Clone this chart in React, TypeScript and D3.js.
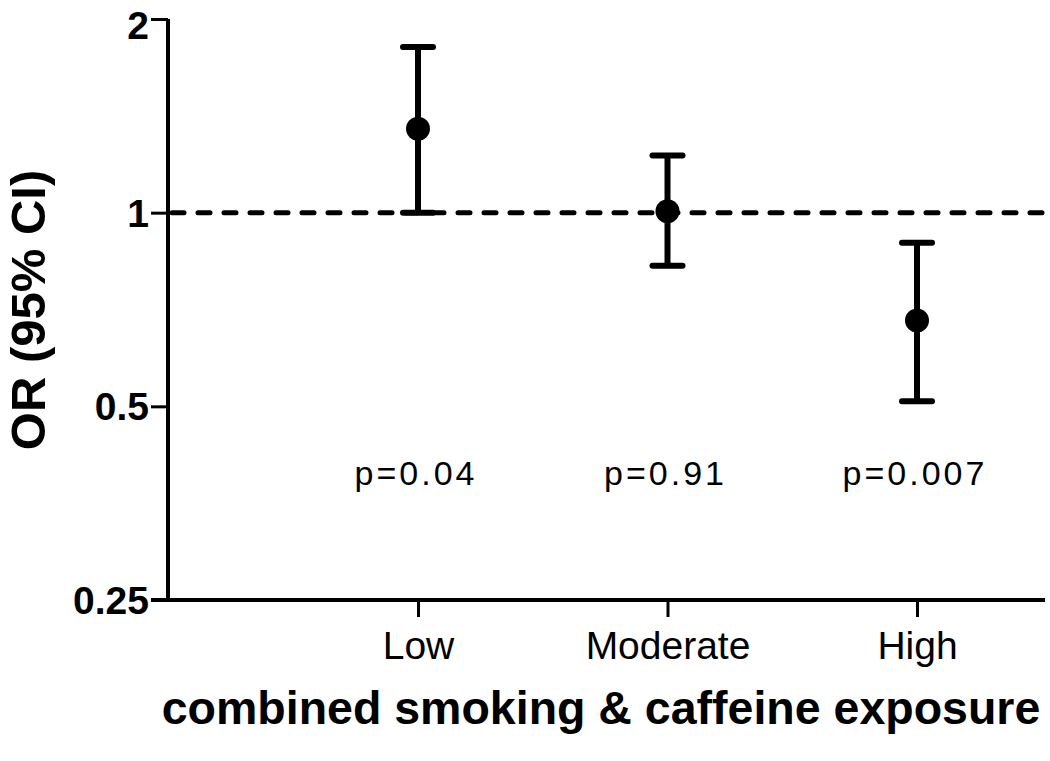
import React, { useEffect, useRef } from 'react';
import * as d3 from 'd3';

const categories = ['Low', 'Moderate', 'High'];
const orValues = [1.35, 1.005, 0.68];
const ciLower = [1.0, 0.827, 0.509];
const ciUpper = [1.81, 1.227, 0.898];
const pLabels = ['p=0.04', 'p=0.91', 'p=0.007'];
const yTicks = [0.25, 0.5, 1, 2];

export default function App() {
  const ref = useRef<SVGSVGElement>(null);

  useEffect(() => {
    const width = 1050;
    const height = 761;
    const left = 168;
    const right = 1045;
    const top = 19;
    const bottom = 600;
    const font = 'Liberation Sans, Arial, sans-serif';

    const svg = d3.select(ref.current);
    svg.selectAll('*').remove();

    const yScale = d3.scaleLog().base(2).domain([0.25, 2]).range([bottom, top]);
    const xScale = d3.scalePoint().domain(categories).range([418, 917]);

    const g = svg.append('g');

    // reference line at OR = 1
    g.append('line')
      .attr('x1', left + 4)
      .attr('x2', right)
      .attr('y1', yScale(1))
      .attr('y2', yScale(1))
      .attr('stroke', '#000')
      .attr('stroke-width', 5)
      .attr('stroke-dasharray', '12,14')
      .attr('stroke-linecap', 'round');

    // y axis
    const yAxis = g.append('g')
      .attr('transform', `translate(${left},0)`)
      .call(d3.axisLeft(yScale).tickValues(yTicks).tickFormat(d => String(d)).tickSize(17).tickPadding(2));
    yAxis.select('.domain').attr('stroke-width', 4).attr('d', `M0,${top}V${bottom}`);
    yAxis.selectAll('.tick line').attr('stroke-width', 3);
    yAxis.selectAll('.tick text')
      .attr('font-family', font)
      .attr('font-weight', 'bold')
      .attr('font-size', 39)
      .attr('fill', '#000')
      .attr('dy', d => (d === 2 ? '0.5em' : '0.35em'));

    // x axis
    const xAxis = g.append('g')
      .attr('transform', `translate(0,${bottom})`)
      .call(d3.axisBottom(xScale).tickSize(17).tickPadding(14));
    xAxis.select('.domain').attr('stroke-width', 4).attr('d', `M${left - 17},0H${right}`);
    xAxis.selectAll('.tick line').attr('stroke-width', 3);
    xAxis.selectAll('.tick text')
      .attr('font-family', font)
      .attr('font-size', 39)
      .attr('fill', '#000');

    // error bars
    const bars = g.selectAll('.bar')
      .data(categories)
      .join('g')
      .attr('class', 'bar');

    bars.append('line')
      .attr('x1', d => xScale(d)!)
      .attr('x2', d => xScale(d)!)
      .attr('y1', (d, i) => yScale(ciLower[i]))
      .attr('y2', (d, i) => yScale(ciUpper[i]))
      .attr('stroke', '#000')
      .attr('stroke-width', 6);

    [ciLower, ciUpper].forEach(arr => {
      bars.append('line')
        .attr('x1', d => xScale(d)! - 15)
        .attr('x2', d => xScale(d)! + 15)
        .attr('y1', (d, i) => yScale(arr[i]))
        .attr('y2', (d, i) => yScale(arr[i]))
        .attr('stroke', '#000')
        .attr('stroke-width', 6)
        .attr('stroke-linecap', 'round');
    });

    bars.append('circle')
      .attr('cx', d => xScale(d)!)
      .attr('cy', (d, i) => yScale(orValues[i]))
      .attr('r', 12)
      .attr('fill', '#000');

    // p values
    g.selectAll('.pval')
      .data(pLabels)
      .join('text')
      .attr('class', 'pval')
      .attr('x', (d, i) => xScale(categories[i])! - 2)
      .attr('y', 485)
      .attr('text-anchor', 'middle')
      .attr('font-family', font)
      .attr('font-size', 34)
      .attr('letter-spacing', 3)
      .text(d => d);

    // axis titles
    g.append('text')
      .attr('x', 601)
      .attr('y', 724)
      .attr('text-anchor', 'middle')
      .attr('font-family', font)
      .attr('font-weight', 'bold')
      .attr('font-size', 46.5)
      .text('combined smoking & caffeine exposure');

    g.append('text')
      .attr('transform', `translate(45, 310) rotate(-90)`)
      .attr('text-anchor', 'middle')
      .attr('font-family', font)
      .attr('font-weight', 'bold')
      .attr('font-size', 49)
      .text('OR (95% CI)');

    svg.attr('width', width).attr('height', height);
  }, []);

  return (
    <svg ref={ref} width={1050} height={761}
      style={{ position: 'absolute', top: 0, left: 0, background: '#fff' }} />
  );
}
